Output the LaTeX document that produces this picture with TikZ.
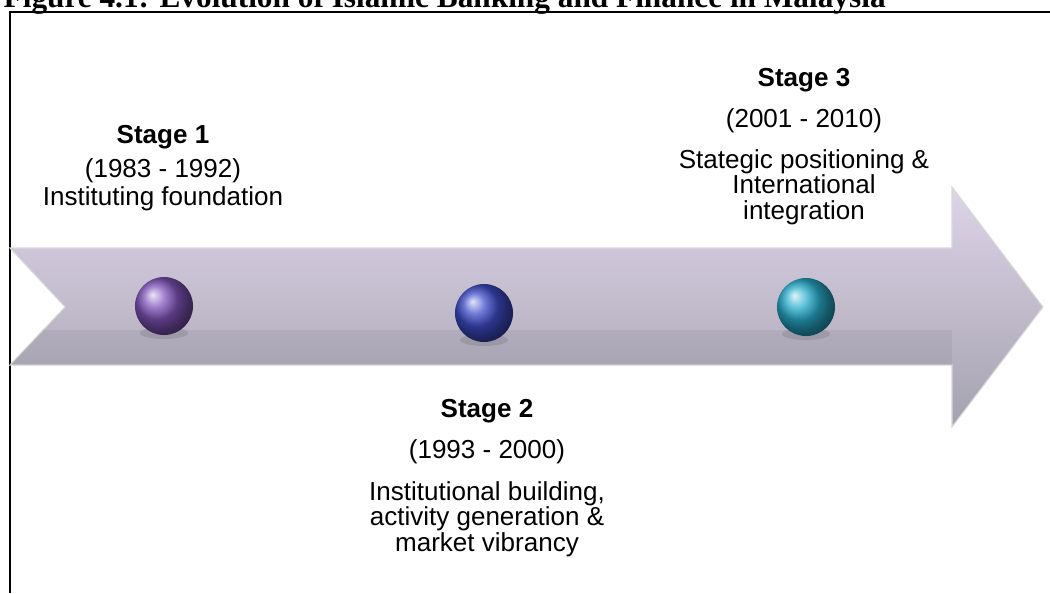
\documentclass[tikz,border=0pt]{standalone}
\usepackage{fontspec}
\setmainfont{Liberation Sans}
\newfontfamily\captionfont{Liberation Serif}

\definecolor{arrowtop}{RGB}{222,212,232}
\definecolor{arrowmid}{RGB}{203,200,216}
\definecolor{arrowbot}{RGB}{164,162,175}
\definecolor{stageone}{RGB}{128,84,186}
\definecolor{stagetwo}{RGB}{62,76,200}
\definecolor{stagethree}{RGB}{40,172,204}

\tikzset{
	stagehead/.style={font=\fontsize{7.4}{8}\selectfont\bfseries, anchor=base, inner sep=0pt},
	stageyears/.style={font=\fontsize{7.4}{8}\selectfont, anchor=base, inner sep=0pt},
	stagetext/.style={font=\fontsize{7.4}{7.2}\selectfont, anchor=north, align=center, inner sep=0pt},
	milestone/.style={circle, minimum size=0.58cm, inner sep=0pt, shading=ball},
}

\begin{document}
\begin{tikzpicture}[x=0.01cm, y=-0.01cm]
	\useasboundingbox (0,0) rectangle (1050,593);
	\node[anchor=base west, inner sep=0pt, font=\captionfont\bfseries\fontsize{8.9}{10}\selectfont] (caption) at (3,7.5) {Figure 4.1: Evolution of Islamic Banking and Finance in Malaysia};
	\draw[line width=0.55pt] (10,593) -- (10,12) -- (1050,12);
	\shade[top color=arrowtop, middle color=arrowmid, bottom color=arrowbot, draw=gray!30, line width=0.3pt]
		(10,248) -- (952,248) -- (952,187) -- (1043,307) -- (952,427) -- (952,365) -- (10,365) -- (65,307) -- cycle;
	\fill[black, opacity=0.05] (43,330) -- (952,330) -- (952,365) -- (10,365) -- cycle;
	\foreach \x/\y in {164/306, 484/313, 806/307}
		\fill[black, opacity=0.1] (\x,\y+27) ellipse (24 and 6);
	\node[milestone, ball color=stageone] (m1) at (164,306) {};
	\node[milestone, ball color=stagetwo] (m2) at (484,313) {};
	\node[milestone, ball color=stagethree] (m3) at (806,307) {};
	\node[stagehead] (s1) at (163,143) {Stage 1};
	\node[stageyears] (y1) at (163,177) {(1983 - 1992)};
	\node[stagetext] (d1) at (163,186) {Instituting foundation};
	\node[stagehead] (s2) at (487,417) {Stage 2};
	\node[stageyears] (y2) at (487,458) {(1993 - 2000)};
	\node[stagetext] (d2) at (487,481) {Institutional building,\\activity generation \&\\market vibrancy};
	\node[stagehead] (s3) at (804,86) {Stage 3};
	\node[stageyears] (y3) at (804,127) {(2001 - 2010)};
	\node[stagetext] (d3) at (804,149) {Stategic positioning \&\\International\\integration};
\end{tikzpicture}
\end{document}
